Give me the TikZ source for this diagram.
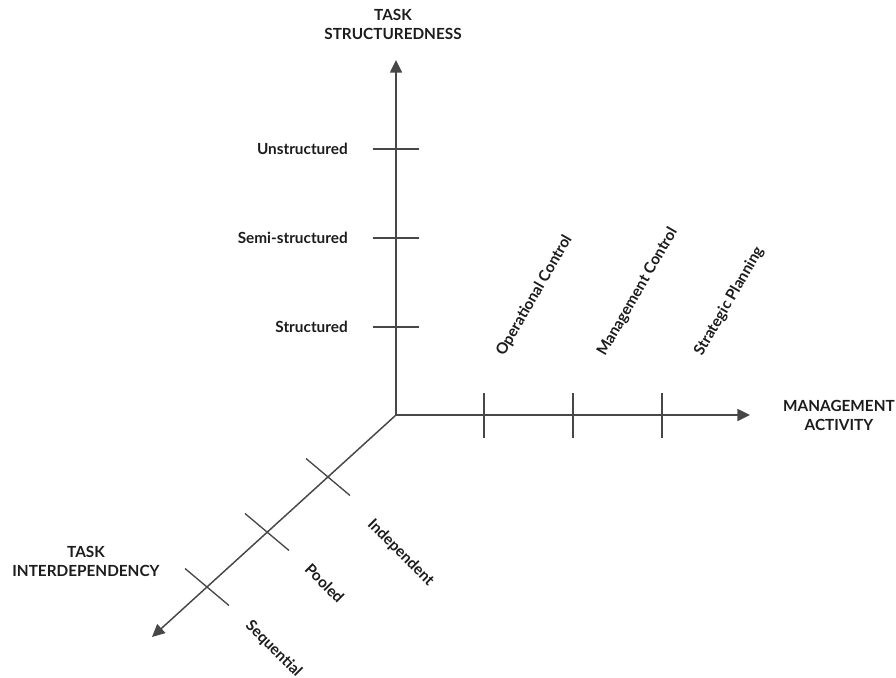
\documentclass[tikz,border=0pt]{standalone}
\usepackage{fontspec}
\setmainfont{Lato}
\usetikzlibrary{arrows.meta}
\definecolor{axisgray}{HTML}{474747}
\definecolor{textdark}{HTML}{1C1C1C}
\begin{document}
\begin{tikzpicture}[x=0.75pt,y=-0.75pt,
  axis/.style={draw=axisgray, line width=1.1pt, -{Triangle[length=9.5pt,width=9pt]}},
  tickmark/.style={draw=axisgray, line width=1pt},
  lbl/.style={font=\fontsize{11.5}{14.3}\selectfont\bfseries, text=textdark, inner sep=0pt},
  axtitle/.style={lbl, align=center}]
\useasboundingbox (0,0) rectangle (896,678);

% axes
\coordinate (O) at (396,415);
\coordinate (ytip) at (396,60);
\coordinate (xtip) at (750,415);
\coordinate (ztip) at (152,637);
\draw[axis] (O) -- (ytip);
\draw[axis] (O) -- (xtip);
\draw[axis] (O) -- (ztip);

% ticks on the vertical axis
\foreach \n/\y in {s/327, m/238, u/149}{
  \coordinate (y\n) at (396,\y);
  \draw[tickmark] ([xshift=-23*0.75pt]y\n) -- ([xshift=23*0.75pt]y\n);
}
% ticks on the horizontal axis
\foreach \n/\x in {oc/484, mc/573, sp/662}{
  \coordinate (x\n) at (\x,415);
  \draw[tickmark] ([yshift=22*0.75pt]x\n) -- ([yshift=-23*0.75pt]x\n);
}
% ticks on the diagonal axis
\foreach \n/\x/\y in {ind/328/477, poo/267/532, seq/207/587}{
  \coordinate (z\n) at (\x,\y);
  \draw[tickmark] ([shift={(-22,-18.5)}]z\n) -- ([shift={(22,18.5)}]z\n);
}

% axis titles
\node[axtitle] (ttop) at (393,24) {TASK\\STRUCTUREDNESS};
\node[axtitle] (tright) at (839,415) {MANAGEMENT\\ACTIVITY};
\node[axtitle] (tleft) at (86,561.5) {TASK\\INTERDEPENDENCY};

% vertical axis labels
\node[lbl, anchor=east] (lu) at (348,149) {Unstructured};
\node[lbl, anchor=east] (lm) at (348,238) {Semi-structured};
\node[lbl, anchor=east] (ls) at (348,327) {Structured};

% horizontal axis labels
\node[lbl, anchor=base west, rotate=60] (loc) at (504,357) {Operational Control};
\node[lbl, anchor=base west, rotate=60] (lmc) at (605,357) {Management Control};
\node[lbl, anchor=base west, rotate=60] (lsp) at (702,357) {Strategic Planning};

% diagonal axis labels
\node[lbl, anchor=north west, rotate=-45] (lind) at (375,517) {Independent};
\node[lbl, anchor=north west, rotate=-45] (lpoo) at (312,562) {Pooled};
\node[lbl, anchor=north west, rotate=-45] (lseq) at (253,618) {Sequential};
\end{tikzpicture}
\end{document}
